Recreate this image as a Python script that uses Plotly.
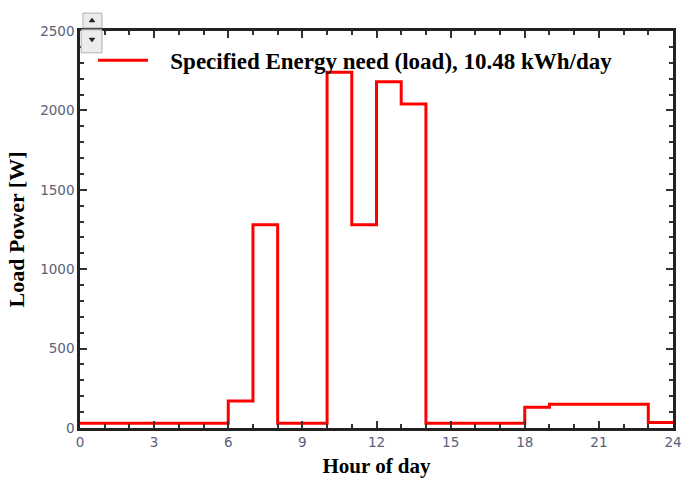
import plotly.graph_objects as go

hours = list(range(0, 25))
load_w = [30, 30, 30, 30, 30, 30, 170, 1280, 30, 30, 2240, 1280, 2180, 2040,
          30, 30, 30, 30, 130, 150, 150, 150, 150, 35, 35]
series_name = "Specified Energy need (load), 10.48 kWh/day"
x_ticks = [0, 3, 6, 9, 12, 15, 18, 21, 24]
y_ticks = [0, 500, 1000, 1500, 2000, 2500]

fig = go.Figure()
fig.add_trace(go.Scatter(x=hours, y=load_w, mode="lines", line_shape="hv",
                         line=dict(color="#ff0000", width=3),
                         name="\u00a0\u00a0\u00a0<b>" + series_name + "</b>",
                         showlegend=True))

tickfont = dict(family="DejaVu Sans", size=13.5, color="#58607c")
serif = "Liberation Serif, Times New Roman"

fig.update_xaxes(range=[0, 24], tickvals=x_ticks, ticks="inside", ticklen=7, tickwidth=1.5,
                 tickcolor="#333", showline=True, linewidth=2.5, linecolor="#222",
                 mirror="allticks", showgrid=False, zeroline=False, automargin=False,
                 ticklabeloverflow="allow",
                 minor=dict(dtick=1, ticks="inside", ticklen=4, tickcolor="#333", tickwidth=1.5),
                 tickfont=tickfont,
                 title=dict(text="<b>Hour of day</b>", font=dict(family=serif, size=21, color="black"),
                            standoff=11))
fig.update_yaxes(range=[0, 2500], tickvals=y_ticks, ticks="inside", ticklen=7, tickwidth=1.5,
                 tickcolor="#333", showline=True, linewidth=2.5, linecolor="#222",
                 mirror="allticks", showgrid=False, zeroline=False, automargin=False,
                 ticklabeloverflow="allow",
                 minor=dict(dtick=100, ticks="inside", ticklen=4, tickcolor="#333", tickwidth=1.5),
                 tickfont=tickfont,
                 title=dict(text="<b>Load Power [W]</b>", font=dict(family=serif, size=22, color="black"),
                            standoff=10))

fig.update_layout(
    width=683, height=478,
    margin=dict(l=80, r=10, t=31, b=50),
    plot_bgcolor="white", paper_bgcolor="white",
    legend=dict(x=0.022, y=0.926, xanchor="left", yanchor="middle",
                bgcolor="rgba(255,255,255,0)",
                font=dict(family=serif, size=23, color="black"),
                itemwidth=50),
)

# small scroll widget at the top-left corner (decorative)
fig.add_shape(type="rect", xref="paper", yref="paper", x0=0.005, x1=0.037, y0=1.008, y1=1.045,
              fillcolor="#ececec", line=dict(color="#b0b0b0", width=1), layer="above")
fig.add_shape(type="rect", xref="paper", yref="paper", x0=0.002, x1=0.037, y0=0.945, y1=1.003,
              fillcolor="#ececec", line=dict(color="#b0b0b0", width=1), layer="above")
fig.add_shape(type="path", xref="paper", yref="paper",
              path="M0.0152,1.0227 L0.0253,1.0227 L0.0202,1.0327 Z",
              fillcolor="#222", line=dict(color="#222", width=0.5), layer="above")
fig.add_shape(type="path", xref="paper", yref="paper",
              path="M0.0152,0.9824 L0.0253,0.9824 L0.0202,0.9723 Z",
              fillcolor="#222", line=dict(color="#222", width=0.5), layer="above")

fig.write_html("out.html")
